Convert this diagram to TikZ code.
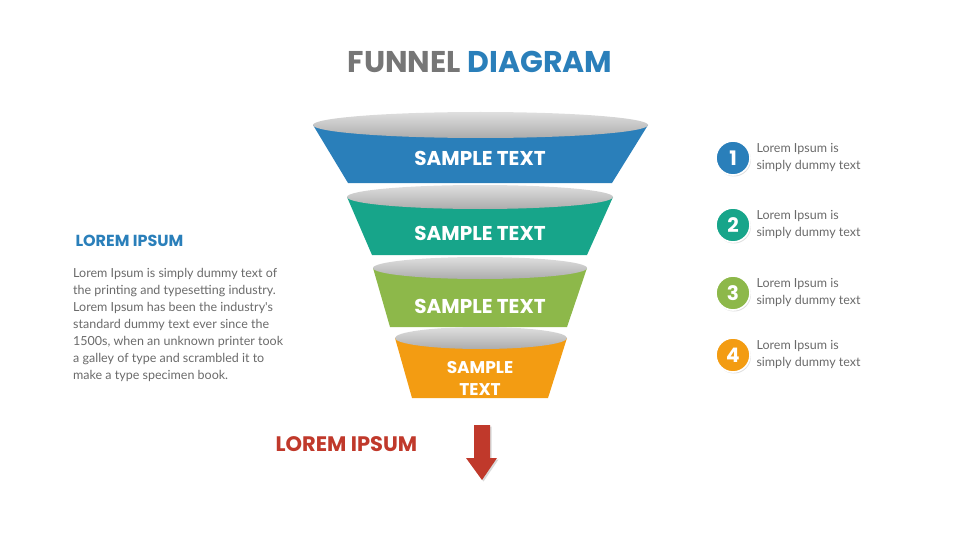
\documentclass[tikz,border=0pt]{standalone}
\usepackage{fontspec}
\setmainfont{Poppins}
\newfontfamily\bodyf{Lato}
\usetikzlibrary{shadows}
\definecolor{cblue}{HTML}{2A7FBA}
\definecolor{cteal}{HTML}{17A58A}
\definecolor{cgreen}{HTML}{8DB84A}
\definecolor{corange}{HTML}{F39C12}
\definecolor{cred}{HTML}{C0392B}
\definecolor{cgray}{HTML}{767676}
\definecolor{ctext}{HTML}{6A6A6A}
\begin{document}
\begin{tikzpicture}[x=1pt,y=-1pt,
  band/.style={fill=#1},
  lid/.style={top color=gray!25,bottom color=gray!65},
  bandtext/.style={text=white,font=\fontsize{20}{22}\selectfont\bfseries,align=center},
  badge/.style={circle,minimum size=34pt,inner sep=0pt,fill=#1,draw=white,line width=1.6pt,text=white,font=\fontsize{20}{20}\selectfont\bfseries,drop shadow={opacity=0.25,shadow xshift=1pt,shadow yshift=-1.5pt}},
  side/.style={anchor=west,align=left,text=ctext,font=\bodyf\fontsize{12.5}{17}\selectfont}]
\useasboundingbox (0,0) rectangle (960,540);
% funnel bands
\fill[cblue] (313,125) -- (648,125) -- (612,183) -- (348,183) -- cycle;
\shade[lid] (480.5,125) ellipse (167.5 and 13);
\fill[cteal] (347,197) -- (613,197) -- (587,255) -- (372,255) -- cycle;
\shade[lid] (480,197) ellipse (133 and 12);
\fill[cgreen] (373,268) -- (587,268) -- (567,327) -- (390,327) -- cycle;
\shade[lid] (480,268) ellipse (107 and 11);
\fill[corange] (395,338) -- (567,338) -- (548,398) -- (412,398) -- cycle;
\shade[lid] (481,338) ellipse (86 and 11);
\node[bandtext] (t1) at (480,158) {SAMPLE TEXT};
\node[bandtext] (t2) at (480,233) {SAMPLE TEXT};
\node[bandtext] (t3) at (480,306) {SAMPLE TEXT};
\node[bandtext,font=\fontsize{17}{22}\selectfont\bfseries] (t4) at (480,378) {SAMPLE\\TEXT};
% title
\node[font=\fontsize{30}{30}\selectfont\bfseries] (title) at (480,62) {\textcolor{cgray}{FUNNEL} \textcolor{cblue}{DIAGRAM}};
% left
\node[anchor=west,text=cblue,font=\fontsize{16}{16}\selectfont\bfseries] (lh) at (72,241) {LOREM IPSUM};
\node[anchor=north west,align=left,text=ctext,font=\bodyf\fontsize{12.5}{17}\selectfont,inner sep=0pt] (lp) at (73,268) {Lorem Ipsum is simply dummy text of\\the printing and typesetting industry.\\Lorem Ipsum has been the industry's\\standard dummy text ever since the\\1500s, when an unknown printer took\\a galley of type and scrambled it to\\make a type specimen book.};
% bottom
\node[anchor=west,text=cred,font=\fontsize{21}{21}\selectfont\bfseries] (bl) at (272,444) {LOREM IPSUM};
\fill[cred,drop shadow={opacity=0.3,shadow xshift=1.5pt,shadow yshift=-1.5pt}] (474,425) -- (490,425) -- (490,458) -- (497,458) -- (482,480) -- (466,458) -- (474,458) -- cycle;
% badges
\foreach \n/\y/\c in {1/158/cblue,2/225/cteal,3/293/cgreen,4/355/corange}{
  \node[badge=\c] (b\n) at (733,\y) {\n};
  \node[side] (s\n) at (753,\y) {Lorem Ipsum is\\simply dummy text};
}
\end{tikzpicture}
\end{document}
